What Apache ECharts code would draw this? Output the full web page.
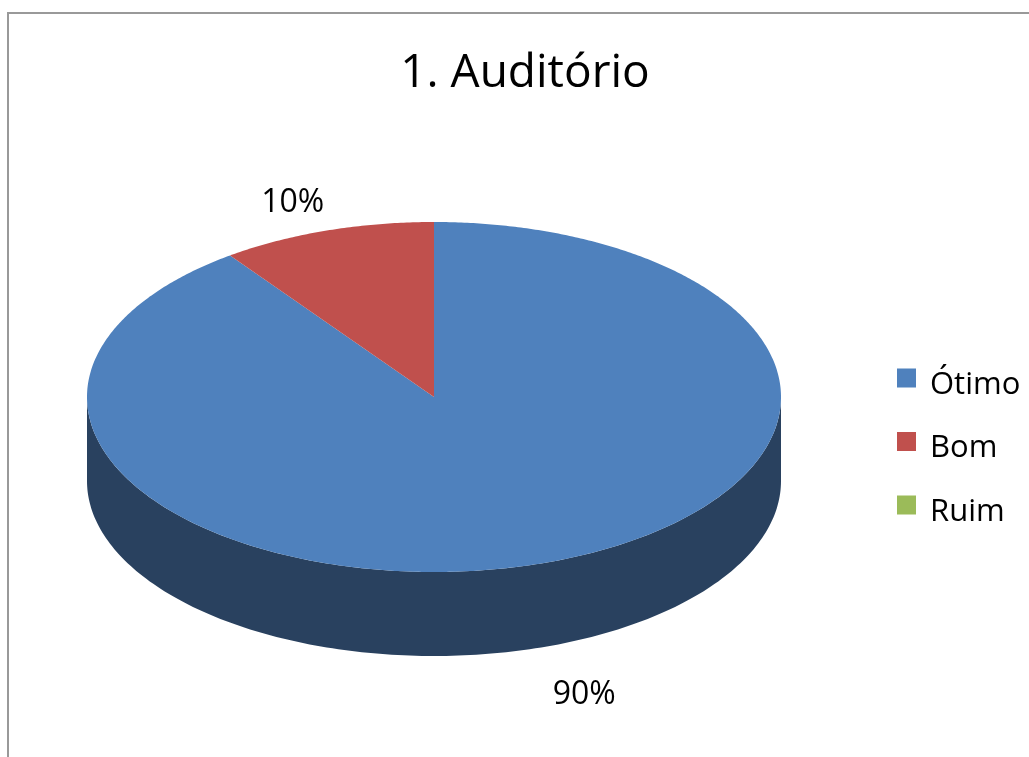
<!DOCTYPE html>
<html>
<head>
<meta charset="utf-8">
<style>
  html, body { margin: 0; padding: 0; background: #fff; }
  #chart { width: 1029px; height: 757px; }
</style>
<script src="https://cdn.jsdelivr.net/npm/echarts@6/dist/echarts.min.js"></script>
</head>
<body>
<div id="chart"></div>
<script>
const categories = ['Ótimo', 'Bom', 'Ruim'];
const values = [90, 10, 0];
const colors = ['#4F81BD', '#C0504D', '#9BBB59'];
const sideColors = ['#29415F', '#6F2E2C', '#5A6D34'];

const FONT = '"Open Sans", sans-serif';
const DEPTH = 0.48; // altura da lateral, em unidades do eixo y
const total = values.reduce((sum, v) => sum + v, 0);

// deslocamento do rótulo em relação à borda da fatia (px)
const labelOffset = [[43, 47], [-34, -28], [0, 0]];

// quadrado da legenda um pouco acima do centro do texto
const LEGEND_ICON = 'path://M0 0H19V19H0Z M0 33L0 33Z';

// ponto na elipse: ângulo em graus, a partir do topo, sentido horário
const rimPoint = (api, deg, drop) => {
  const rad = deg * Math.PI / 180;
  return api.coord([Math.sin(rad), Math.cos(rad) - drop]);
};

const sliceRange = (index) => {
  const before = values.slice(0, index).reduce((sum, v) => sum + v, 0);
  return [before / total * 360, (before + values[index]) / total * 360];
};

const renderSlice = (index) => (params, api) => {
  if (!values[index]) return null;
  const [start, end] = sliceRange(index);
  const children = [];

  // lateral: só a parte da frente (90° a 270°)
  const sideStart = Math.max(start, 90);
  const sideEnd = Math.min(end, 270);
  if (sideEnd > sideStart) {
    const side = [];
    for (let d = sideStart; d <= sideEnd; d += 1) side.push(rimPoint(api, d, 0));
    for (let d = sideEnd; d >= sideStart; d -= 1) side.push(rimPoint(api, d, DEPTH));
    children.push({
      type: 'polygon',
      shape: { points: side },
      style: { fill: sideColors[index] }
    });
  }

  // topo
  const top = [api.coord([0, 0])];
  for (let d = start; d <= end; d += 0.5) top.push(rimPoint(api, d, 0));
  children.push({
    type: 'polygon',
    shape: { points: top },
    style: { fill: colors[index] }
  });

  // rótulo de porcentagem
  const mid = (start + end) / 2;
  const frontDrop = mid > 90 && mid < 270 ? DEPTH : 0;
  const anchor = rimPoint(api, mid, frontDrop);
  children.push({
    type: 'text',
    x: anchor[0] + labelOffset[index][0],
    y: anchor[1] + labelOffset[index][1],
    style: {
      text: Math.round(values[index] / total * 100) + '%',
      fill: '#000',
      font: '32px ' + FONT,
      textAlign: 'center',
      textVerticalAlign: 'middle'
    }
  });
  return { type: 'group', children };
};

const myChart = echarts.init(document.getElementById('chart'), null, { renderer: 'canvas' });

myChart.setOption({
  animation: false,
  backgroundColor: '#fff',
  color: colors,
  title: {
    text: '1. Auditório',
    left: 520,
    top: 46,
    textAlign: 'center',
    textStyle: { color: '#000', fontSize: 46, fontWeight: 'normal', fontFamily: FONT }
  },
  legend: {
    orient: 'vertical',
    left: 892,
    top: 363.5,
    icon: LEGEND_ICON,
    itemWidth: 19,
    itemHeight: 33,
    itemGap: 30.5,
    selectedMode: false,
    data: categories,
    textStyle: { color: '#000', fontSize: 31, lineHeight: 32, fontFamily: FONT, padding: [0, 0, 0, 9] }
  },
  grid: { left: 87, top: 222, width: 694, height: 350 },
  xAxis: { type: 'value', min: -1, max: 1, show: false },
  yAxis: { type: 'value', min: -1, max: 1, show: false },
  graphic: [{
    type: 'rect',
    silent: true,
    z: -1,
    shape: { x: 8, y: 13, width: 1200, height: 900 },
    style: { fill: 'none', stroke: '#999', lineWidth: 2 }
  }],
  series: categories.map((name, i) => ({
    type: 'custom',
    name,
    coordinateSystem: 'cartesian2d',
    clip: false,
    silent: true,
    itemStyle: { color: colors[i] },
    renderItem: renderSlice(i),
    data: [[values[i], 0]]
  }))
});
</script>
</body>
</html>
